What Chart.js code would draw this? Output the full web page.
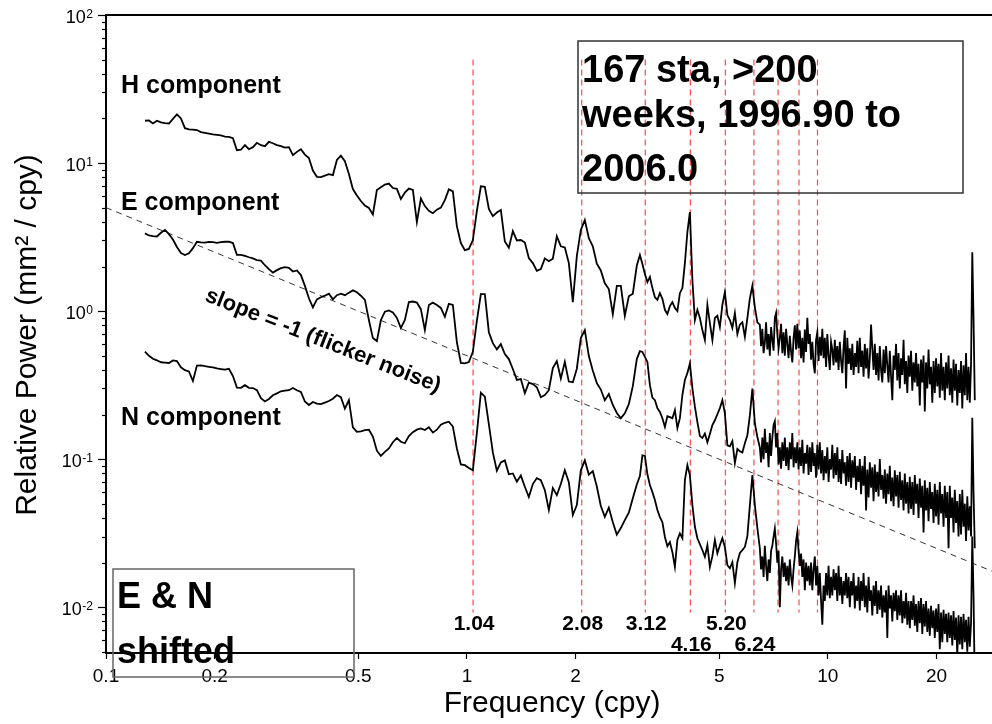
<!DOCTYPE html>
<html>
<head>
<meta charset="utf-8">
<script src="https://cdn.jsdelivr.net/npm/chart.js@4.4.1/dist/chart.umd.min.js"></script>
<style>
  html, body { margin: 0; padding: 0; background: #fff; }
  #wrap { width: 992px; height: 724px; }
</style>
</head>
<body>
<div id="wrap"><canvas id="spec" width="992" height="724"></canvas></div>
<script>
// sample frequencies (cpy): three log-spaced blocks, finer toward Nyquist
const LOW_F0 = 0.1282, LOW_DLOG = 0.01108;      // 0.128 .. 2.99 cpy
const MID_F0 = 3.015, MID_DLOG = 0.006925;      // 3.0 .. 6.4 cpy
const HIGH_F0 = 6.48, HIGH_DLOG = 0.0034626;    // 6.5 .. 25.5 cpy

// relative power (mm^2/cpy), stacks shifted as drawn
const hLow = [
  19.3, 19.4, 18.5, 19.3, 18.8, 18.6, 18.5, 19.9, 21.3, 20.0,
  17.2, 16.9, 16.8, 16.7, 16.2, 16.0, 15.8, 15.6, 15.5, 15.4,
  15.1, 15.0, 14.7, 12.2, 12.3, 13.2, 12.4, 12.8, 13.7, 13.2,
  13.0, 13.9, 13.6, 13.2, 13.0, 12.7, 12.8, 11.3, 11.9, 12.4,
  11.4, 10.8, 8.89, 8.07, 8.04, 8.23, 8.40, 8.29, 10.5, 11.2,
  10.3, 8.44, 6.67, 6.03, 5.54, 5.16, 4.97, 4.49, 6.57, 6.85,
  7.15, 7.27, 6.78, 6.69, 5.71, 6.32, 6.72, 6.58, 3.99, 5.76,
  5.12, 4.76, 4.58, 4.84, 5.00, 5.62, 6.64, 6.43, 3.75, 2.88,
  2.58, 2.63, 3.02, 4.74, 6.97, 6.91, 4.90, 4.38, 4.63, 4.82,
  2.95, 2.68, 3.47, 3.00, 3.02, 2.90, 2.28, 2.11, 1.87, 1.92,
  2.27, 2.17, 2.26, 3.20, 2.74, 2.69, 2.11, 1.15, 2.35, 3.53,
  4.12, 3.11, 2.74, 2.09, 1.88, 1.54, 1.41, 0.954, 1.48, 1.48,
  0.93, 1.26, 1.31, 2.03
];
const hMid = [
  2.39, 2.08, 1.78, 1.57, 1.70, 1.43, 1.24, 1.19, 1.32, 1.21,
  1.02, 0.954, 1.08, 1.15, 1.05, 1.00, 1.32, 1.43, 2.11, 3.42,
  4.67, 1.62, 0.87, 1.02, 0.897, 0.744, 0.637, 1.10, 0.83, 0.637,
  0.897, 0.93, 0.78, 1.10, 1.34, 0.94, 0.87, 0.77, 0.97, 0.70,
  0.81, 0.84, 0.67, 0.897, 1.22, 1.48, 1.06, 0.84
];
const hHigh = [
  0.81, 0.58, 0.76, 0.52, 0.61, 0.84, 0.55, 0.70, 0.50, 0.78,
  0.64, 0.54, 0.90, 0.97, 0.70, 0.56, 0.66, 0.82, 0.52, 0.72,
  0.50, 0.76, 0.60, 0.48, 0.68, 0.53, 0.45, 0.66, 0.80, 0.55,
  0.82, 0.56, 0.74, 0.48, 0.66, 0.45, 0.75, 0.53, 0.90, 0.60,
  0.70, 0.47, 0.62, 0.44, 0.38, 0.64, 0.72, 0.46, 0.67, 0.50,
  0.76, 0.48, 0.66, 0.42, 0.70, 0.50, 0.40, 0.62, 0.55, 0.43,
  0.64, 0.45, 0.58, 0.40, 0.62, 0.46, 0.38, 0.57, 0.74, 0.30,
  0.66, 0.44, 0.56, 0.40, 0.60, 0.37, 0.52, 0.42, 0.63, 0.38,
  0.66, 0.42, 0.54, 0.36, 0.60, 0.41, 0.56, 0.35, 0.48, 0.81,
  0.56, 0.40, 0.60, 0.37, 0.52, 0.34, 0.58, 0.40, 0.33, 0.55,
  0.38, 0.58, 0.43, 0.33, 0.54, 0.36, 0.25, 0.50, 0.40, 0.60,
  0.34, 0.52, 0.30, 0.48, 0.37, 0.64, 0.32, 0.46, 0.28, 0.50,
  0.36, 0.54, 0.29, 0.45, 0.33, 0.52, 0.31, 0.44, 0.23, 0.47,
  0.33, 0.50, 0.21, 0.45, 0.30, 0.55, 0.32, 0.42, 0.24, 0.46,
  0.28, 0.48, 0.31, 0.44, 0.26, 0.52, 0.29, 0.42, 0.25, 0.45,
  0.30, 0.50, 0.27, 0.41, 0.24, 0.47, 0.29, 0.44, 0.23, 0.40,
  0.28, 0.46, 0.22, 0.43, 0.27, 0.52, 0.25, 0.42, 0.24, 0.44,
  2.5, 0.9, 0.25
];

const eLow = [
  3.35, 3.24, 3.21, 3.19, 3.38, 3.53, 3.31, 3.04, 2.71, 2.47,
  2.39, 2.46, 2.66, 2.94, 2.91, 2.90, 2.93, 2.92, 2.89, 2.92,
  2.94, 2.94, 2.88, 2.40, 2.40, 2.36, 2.31, 2.27, 2.21, 2.19,
  2.04, 1.92, 1.82, 1.89, 1.95, 1.98, 1.96, 1.85, 1.88, 1.75,
  1.48, 1.22, 1.06, 1.20, 1.24, 1.27, 1.31, 1.20, 1.28, 1.31,
  1.28, 1.33, 1.38, 1.34, 1.27, 1.19, 0.87, 0.657, 0.627, 0.87,
  0.99, 1.01, 0.98, 0.90, 0.767, 0.87, 1.15, 1.16, 1.14, 1.03,
  0.744, 1.10, 1.14, 1.10, 1.05, 0.915, 1.12, 1.10, 0.617, 0.446,
  0.443, 0.453, 0.53, 0.858, 1.30, 1.30, 0.72, 0.607, 0.551, 0.598,
  0.512, 0.474, 0.406, 0.343, 0.347, 0.279, 0.328, 0.321, 0.306, 0.262,
  0.271, 0.292, 0.412, 0.459, 0.35, 0.454, 0.334, 0.331, 0.408, 0.657,
  0.744, 0.497, 0.395, 0.326, 0.295, 0.25, 0.275, 0.232, 0.205, 0.189,
  0.204, 0.235, 0.311, 0.474
];
const eMid = [
  0.536, 0.53, 0.491, 0.453, 0.316, 0.26, 0.25, 0.221, 0.208, 0.189,
  0.165, 0.195, 0.192, 0.189, 0.214, 0.162, 0.189, 0.271, 0.342, 0.381,
  0.443, 0.302, 0.226, 0.178, 0.143, 0.139, 0.149, 0.130, 0.148, 0.17,
  0.183, 0.201, 0.221, 0.25, 0.204, 0.124, 0.122, 0.132, 0.094, 0.117,
  0.113, 0.111, 0.128, 0.145, 0.198, 0.30, 0.174, 0.141
];
const eHigh = [
  0.12, 0.095, 0.14, 0.10, 0.16, 0.11, 0.13, 0.088, 0.15, 0.105,
  0.14, 0.17, 0.18, 0.12, 0.15, 0.092, 0.12, 0.086, 0.13, 0.097,
  0.14, 0.09, 0.12, 0.084, 0.13, 0.10, 0.15, 0.088, 0.12, 0.094,
  0.13, 0.085, 0.12, 0.09, 0.135, 0.08, 0.11, 0.093, 0.125, 0.078,
  0.12, 0.082, 0.13, 0.09, 0.11, 0.075, 0.125, 0.085, 0.13, 0.08,
  0.115, 0.072, 0.105, 0.08, 0.12, 0.07, 0.10, 0.085, 0.125, 0.074,
  0.11, 0.078, 0.12, 0.07, 0.10, 0.068, 0.115, 0.08, 0.095, 0.066,
  0.105, 0.07, 0.11, 0.064, 0.098, 0.075, 0.105, 0.062, 0.09, 0.07,
  0.10, 0.058, 0.09, 0.066, 0.105, 0.045, 0.085, 0.055, 0.095, 0.064,
  0.088, 0.052, 0.092, 0.06, 0.082, 0.056, 0.10, 0.062, 0.078, 0.054,
  0.085, 0.05, 0.08, 0.058, 0.09, 0.052, 0.075, 0.048, 0.084, 0.056,
  0.078, 0.047, 0.082, 0.053, 0.072, 0.045, 0.08, 0.05, 0.07, 0.043,
  0.076, 0.046, 0.07, 0.042, 0.078, 0.05, 0.068, 0.04, 0.074, 0.047,
  0.066, 0.032, 0.072, 0.045, 0.064, 0.038, 0.07, 0.046, 0.06, 0.037,
  0.068, 0.041, 0.062, 0.036, 0.07, 0.043, 0.058, 0.035, 0.066, 0.04,
  0.06, 0.025, 0.066, 0.04, 0.055, 0.032, 0.062, 0.037, 0.052, 0.03,
  0.058, 0.031, 0.062, 0.035, 0.05, 0.028, 0.056, 0.033, 0.048, 0.03,
  0.19, 0.06, 0.025
];

const nLow = [
  0.533, 0.499, 0.476, 0.465, 0.451, 0.449, 0.446, 0.464, 0.459, 0.417,
  0.399, 0.391, 0.337, 0.428, 0.43, 0.424, 0.42, 0.416, 0.41, 0.406,
  0.402, 0.407, 0.364, 0.304, 0.303, 0.316, 0.303, 0.302, 0.292, 0.258,
  0.245, 0.255, 0.27, 0.278, 0.287, 0.29, 0.292, 0.302, 0.292, 0.284,
  0.245, 0.232, 0.243, 0.237, 0.235, 0.241, 0.247, 0.256, 0.271, 0.262,
  0.219, 0.25, 0.164, 0.153, 0.154, 0.157, 0.158, 0.142, 0.114, 0.105,
  0.112, 0.118, 0.130, 0.139, 0.131, 0.128, 0.143, 0.152, 0.158, 0.161,
  0.157, 0.164, 0.151, 0.158, 0.171, 0.176, 0.179, 0.166, 0.118, 0.092,
  0.091, 0.087, 0.084, 0.150, 0.281, 0.264, 0.172, 0.111, 0.0835, 0.095,
  0.098, 0.079, 0.080, 0.0705, 0.0774, 0.065, 0.0554, 0.0678, 0.0744, 0.0721,
  0.0617, 0.0453, 0.0637, 0.0571, 0.0678, 0.084, 0.0699, 0.0419, 0.0489, 0.084,
  0.098, 0.0786, 0.0829, 0.0653, 0.0482, 0.0408, 0.047, 0.0375, 0.0309, 0.0342,
  0.0387, 0.0435, 0.0544, 0.0673
];
const nMid = [
  0.0767, 0.106, 0.105, 0.079, 0.0668, 0.0598, 0.0529, 0.0453, 0.0406, 0.0375,
  0.0298, 0.0258, 0.0275, 0.0235, 0.0187, 0.0284, 0.0315, 0.0292, 0.0721, 0.091,
  0.078, 0.0489, 0.0349, 0.0292, 0.0266, 0.0243, 0.0219, 0.0262, 0.0187, 0.0221,
  0.0284, 0.0231, 0.0262, 0.0292, 0.0255, 0.0192, 0.0183, 0.0201, 0.0145, 0.0201,
  0.0232, 0.0243, 0.0255, 0.0302, 0.0489, 0.078, 0.0489, 0.0342
];
const nHigh = [
  0.025, 0.018, 0.022, 0.016, 0.026, 0.019, 0.015, 0.021, 0.017, 0.024,
  0.026, 0.03, 0.034, 0.027, 0.02, 0.024, 0.01, 0.018, 0.022, 0.016,
  0.02, 0.015, 0.019, 0.014, 0.021, 0.016, 0.014, 0.018, 0.022, 0.028,
  0.032, 0.024, 0.019, 0.023, 0.016, 0.021, 0.013, 0.02, 0.015, 0.019,
  0.014, 0.02, 0.013, 0.018, 0.022, 0.014, 0.019, 0.012, 0.017, 0.011,
  0.0076, 0.014, 0.011, 0.017, 0.012, 0.019, 0.0115, 0.016, 0.012, 0.018,
  0.013, 0.017, 0.011, 0.019, 0.012, 0.016, 0.0105, 0.015, 0.012, 0.017,
  0.0115, 0.016, 0.01, 0.015, 0.012, 0.017, 0.0098, 0.014, 0.011, 0.016,
  0.0095, 0.015, 0.011, 0.017, 0.01, 0.014, 0.0092, 0.016, 0.011, 0.013,
  0.0088, 0.014, 0.0102, 0.015, 0.009, 0.013, 0.0096, 0.014, 0.0085, 0.012,
  0.0092, 0.013, 0.0062, 0.014, 0.0098, 0.012, 0.008, 0.0125, 0.0094, 0.013,
  0.0082, 0.012, 0.0088, 0.013, 0.0078, 0.011, 0.0084, 0.0125, 0.0076, 0.011,
  0.0072, 0.011, 0.0082, 0.012, 0.0075, 0.0105, 0.0068, 0.011, 0.0078, 0.0115,
  0.0066, 0.0105, 0.0074, 0.011, 0.0068, 0.0098, 0.0064, 0.0102, 0.0072, 0.0095,
  0.0062, 0.0098, 0.0068, 0.0105, 0.0052, 0.0092, 0.0058, 0.0096, 0.0066, 0.009,
  0.0058, 0.0092, 0.0062, 0.0088, 0.0055, 0.0094, 0.006, 0.0085, 0.0047, 0.0088,
  0.0056, 0.0086, 0.0052, 0.009, 0.0058, 0.0082, 0.005, 0.0086, 0.0054, 0.0078,
  0.03, 0.012, 0.003
];

// flicker-noise reference line (slope -1) end points
const slopeFreq = [0.1, 28.5];
const slopePower = [5.0, 0.0175];

// annual harmonics marked with red dashes
const harmonicFreq = [1.04, 2.08, 3.12, 4.16, 5.20, 6.24, 7.28, 8.32, 9.36];
const harmonicSpan = [50, 0.0092];
const harmonicLabels = ['1.04', '2.08', '3.12', '4.16', '5.20', '6.24'];

const xTicks = [0.1, 0.2, 0.5, 1, 2, 5, 10, 20];
const yTicks = [0.01, 0.1, 1, 10, 100];

const FONT = '"Liberation Sans", Arial, Helvetica, sans-serif';

function toPoints(low, mid, high) {
  const pts = [];
  [[LOW_F0, LOW_DLOG, low], [MID_F0, MID_DLOG, mid], [HIGH_F0, HIGH_DLOG, high]].forEach(([f0, dl, vals]) => {
    vals.forEach((v, i) => pts.push({ x: f0 * Math.pow(10, i * dl), y: v }));
  });
  return pts;
}

const curve = (label, pts) => ({
  label, data: pts, borderColor: '#000', borderWidth: 1.8,
  pointRadius: 0, tension: 0, order: 0
});

const datasets = [
  curve('H', toPoints(hLow, hMid, hHigh)),
  curve('E', toPoints(eLow, eMid, eHigh)),
  curve('N', toPoints(nLow, nMid, nHigh)),
  {
    label: 'slope', data: slopeFreq.map((f, i) => ({ x: f, y: slopePower[i] })),
    borderColor: '#333', borderWidth: 1, borderDash: [6, 5], pointRadius: 0, order: 1
  }
];
harmonicFreq.forEach(f => {
  datasets.push({
    label: 'h' + f, data: harmonicSpan.map(p => ({ x: f, y: p })),
    borderColor: '#ff4a4a', borderWidth: 1.2, borderDash: [6, 4], pointRadius: 0, order: 2
  });
});

const decor = {
  id: 'decor',
  afterDraw(chart) {
    const { ctx, chartArea: a, scales: { x, y } } = chart;
    ctx.save();
    ctx.fillStyle = '#000';
    ctx.strokeStyle = '#000';

    // top frame
    ctx.lineWidth = 2;
    ctx.beginPath(); ctx.moveTo(a.left - 1, a.top); ctx.lineTo(a.right, a.top); ctx.stroke();

    // minor y ticks
    ctx.lineWidth = 1.2;
    [0.001, 0.01, 0.1, 1, 10].forEach(base => {
      for (let m = 2; m <= 9; m++) {
        const v = base * m;
        if (v < y.min || v > y.max) continue;
        const py = Math.round(y.getPixelForValue(v)) + 0.5;
        ctx.beginPath(); ctx.moveTo(a.left - 4, py); ctx.lineTo(a.left, py); ctx.stroke();
      }
    });

    // decade labels 10^n
    yTicks.forEach(v => {
      const py = y.getPixelForValue(v);
      const exp = String(Math.round(Math.log10(v)));
      ctx.font = '12px ' + FONT;
      const ew = ctx.measureText(exp).width;
      ctx.textAlign = 'left'; ctx.textBaseline = 'alphabetic';
      ctx.fillText(exp, 93 - ew, py + 3);
      ctx.font = '18px ' + FONT;
      ctx.textAlign = 'right';
      ctx.fillText('10', 93 - ew - 0.5, py + 7.5);
    });

    // axis titles
    ctx.font = '30px ' + FONT;
    ctx.textAlign = 'center';
    ctx.fillText('Frequency (cpy)', 552, 712);
    ctx.save();
    ctx.translate(36, 335); ctx.rotate(-Math.PI / 2);
    ctx.fillText('Relative Power (mm\u00b2 / cpy)', 0, 0);
    ctx.restore();

    // component labels
    ctx.font = 'bold 25px ' + FONT;
    ctx.textAlign = 'left';
    ctx.fillText('H component', 121, 93);
    ctx.fillText('E component', 121, 210);
    ctx.fillText('N component', 121, 425);

    // slope label
    ctx.save();
    ctx.font = 'bold 22px ' + FONT;
    ctx.translate(323, 341); ctx.rotate(21.5 * Math.PI / 180);
    ctx.textAlign = 'center'; ctx.textBaseline = 'middle';
    ctx.fillText('slope = -1 (flicker noise)', 0, 0);
    ctx.restore();

    // harmonic labels
    ctx.font = 'bold 21px ' + FONT;
    ctx.textAlign = 'center';
    harmonicLabels.forEach((t, i) => {
      const px = x.getPixelForValue(harmonicFreq[i]) + 1;
      const low = (t === '4.16' || t === '6.24');
      ctx.fillText(t, px, low ? 651 : 630);
    });

    // info box
    ctx.lineWidth = 1.5;
    ctx.strokeStyle = '#333';
    ctx.strokeRect(578, 41, 385, 152);
    ctx.font = 'bold 38px ' + FONT;
    ctx.textAlign = 'left';
    ctx.fillText('167 sta, >200', 582, 82);
    ctx.fillText('weeks, 1996.90 to', 582, 127);
    ctx.fillText('2006.0', 582, 181);

    // shift note box
    ctx.strokeStyle = '#666';
    ctx.strokeRect(113, 569, 241, 108);
    ctx.font = 'bold 36px ' + FONT;
    ctx.fillText('E & N', 117, 608);
    ctx.fillText('shifted', 117, 663);

    ctx.restore();
  }
};

new Chart(document.getElementById('spec'), {
  type: 'line',
  data: { datasets },
  options: {
    responsive: false,
    animation: false,
    devicePixelRatio: 1,
    layout: { padding: { top: 15, left: 0, right: 0, bottom: 0 } },
    plugins: { legend: { display: false }, tooltip: { enabled: false } },
    scales: {
      x: {
        type: 'logarithmic', position: 'bottom', min: 0.1, max: 28.5,
        afterFit: s => { s.height = 71; },
        afterBuildTicks: s => { s.ticks = xTicks.map(v => ({ value: v })); },
        ticks: {
          callback: v => String(v), autoSkip: false, maxRotation: 0,
          color: '#000', padding: 6, font: { family: FONT, size: 19 }
        },
        grid: { drawOnChartArea: false, drawTicks: true, tickLength: 6, tickColor: '#000', tickWidth: 1.2 },
        border: { display: true, color: '#000', width: 2 }
      },
      y: {
        type: 'logarithmic', position: 'left', min: 0.0049, max: 100,
        afterFit: s => { s.width = 106; },
        afterBuildTicks: s => { s.ticks = yTicks.map(v => ({ value: v })); },
        ticks: { display: false },
        grid: { drawOnChartArea: false, drawTicks: true, tickLength: 8, tickColor: '#000', tickWidth: 1.2 },
        border: { display: true, color: '#000', width: 2 }
      }
    }
  },
  plugins: [decor]
});
</script>
</body>
</html>
